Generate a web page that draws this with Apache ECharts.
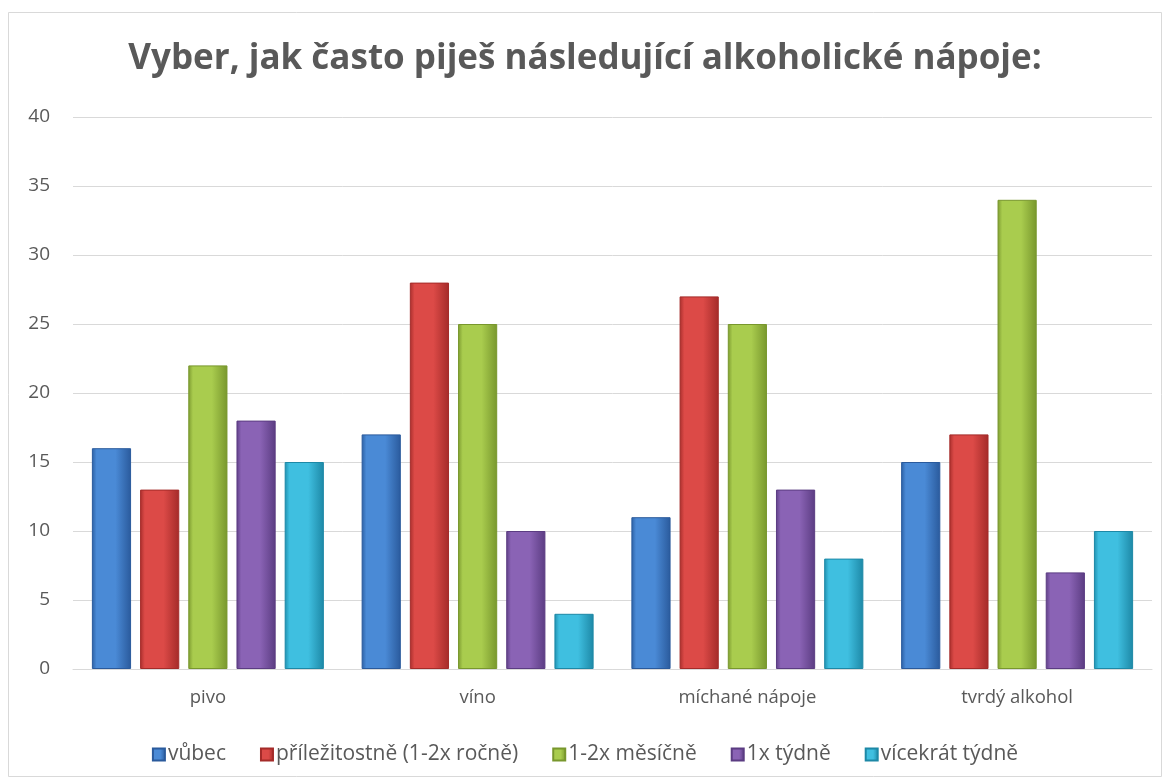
<!DOCTYPE html>
<html><head><meta charset="utf-8">
<script src="https://cdn.jsdelivr.net/npm/echarts@6/dist/echarts.min.js"></script>
<style>html,body{margin:0;padding:0;background:#fff}#c{width:1170px;height:784px}</style>
</head><body><div id="c"></div>
<script>
const categories = ['pivo', 'víno', 'míchané nápoje', 'tvrdý alkohol'];
const seriesNames = ['vůbec', 'příležitostně (1-2x ročně)', '1-2x měsíčně', '1x týdně', 'vícekrát týdně'];
const vubec = [16, 17, 11, 15];
const prilezitostne = [13, 28, 27, 17];
const mesicne = [22, 25, 25, 34];
const tydne = [18, 10, 13, 7];
const vicekrat = [15, 4, 8, 10];
const yTicks = [0, 5, 10, 15, 20, 25, 30, 35, 40];

const values = [vubec, prilezitostne, mesicne, tydne, vicekrat];
const palettes = [
  ['#2b5fa3', '#4a8ad6', '#2a5a9c'],
  ['#a82e2c', '#dc4a47', '#a42b29'],
  ['#7c9a30', '#a9cc4e', '#78972d'],
  ['#5e3f86', '#8a63b5', '#5b3c82'],
  ['#1f8fae', '#3fbfe0', '#1d88a6']
];
function grad(p) {
  return new echarts.graphic.LinearGradient(0, 0, 1, 0, [
    {offset: 0, color: p[0]}, {offset: 0.12, color: p[1]},
    {offset: 0.6, color: p[1]}, {offset: 1, color: p[2]}
  ]);
}
const FONT = 'Open Sans';
const chart = echarts.init(document.getElementById('c'));
chart.setOption({
  animation: false,
  backgroundColor: '#fff',
  graphic: [{type: 'rect', shape: {x: 8.5, y: 12.5, width: 1153, height: 764},
    style: {fill: 'none', stroke: '#d9d9d9', lineWidth: 1}, silent: true}],
  title: {
    text: 'Vyber, jak často piješ následující alkoholické nápoje:',
    left: 'center', top: 37,
    textStyle: {fontFamily: FONT, fontWeight: 'bold', fontSize: 35, color: '#595959'}
  },
  legend: {
    data: seriesNames, top: 739, left: 'center',
    itemWidth: 12, itemHeight: 12, itemGap: 34,
    textStyle: {fontFamily: FONT, fontSize: 21, color: '#595959', padding: [0, 0, 0, -2]},
    icon: 'rect'
  },
  grid: {left: 73, right: 18, top: 117, bottom: 115, containLabel: false},
  xAxis: {
    type: 'category', data: categories,
    axisLine: {lineStyle: {color: '#d9d9d9', width: 1}},
    axisTick: {show: false},
    axisLabel: {fontFamily: FONT, fontSize: 18.5, color: '#595959', margin: 19}
  },
  yAxis: {
    type: 'value', min: yTicks[0], max: yTicks[yTicks.length - 1], interval: 5,
    axisLine: {show: false}, axisTick: {show: false},
    splitLine: {lineStyle: {color: '#d9d9d9', width: 1}},
    axisLabel: {fontFamily: FONT, fontSize: 19, color: '#595959', margin: 23, align: 'right'}
  },
  series: values.map((v, i) => ({
    name: seriesNames[i], type: 'bar', data: v,
    barGap: '23%', barCategoryGap: '14%',
    itemStyle: {color: grad(palettes[i]), borderColor: palettes[i][2], borderWidth: 1}
  })),
  color: palettes.map(p => p[1])
});
</script></body></html>
